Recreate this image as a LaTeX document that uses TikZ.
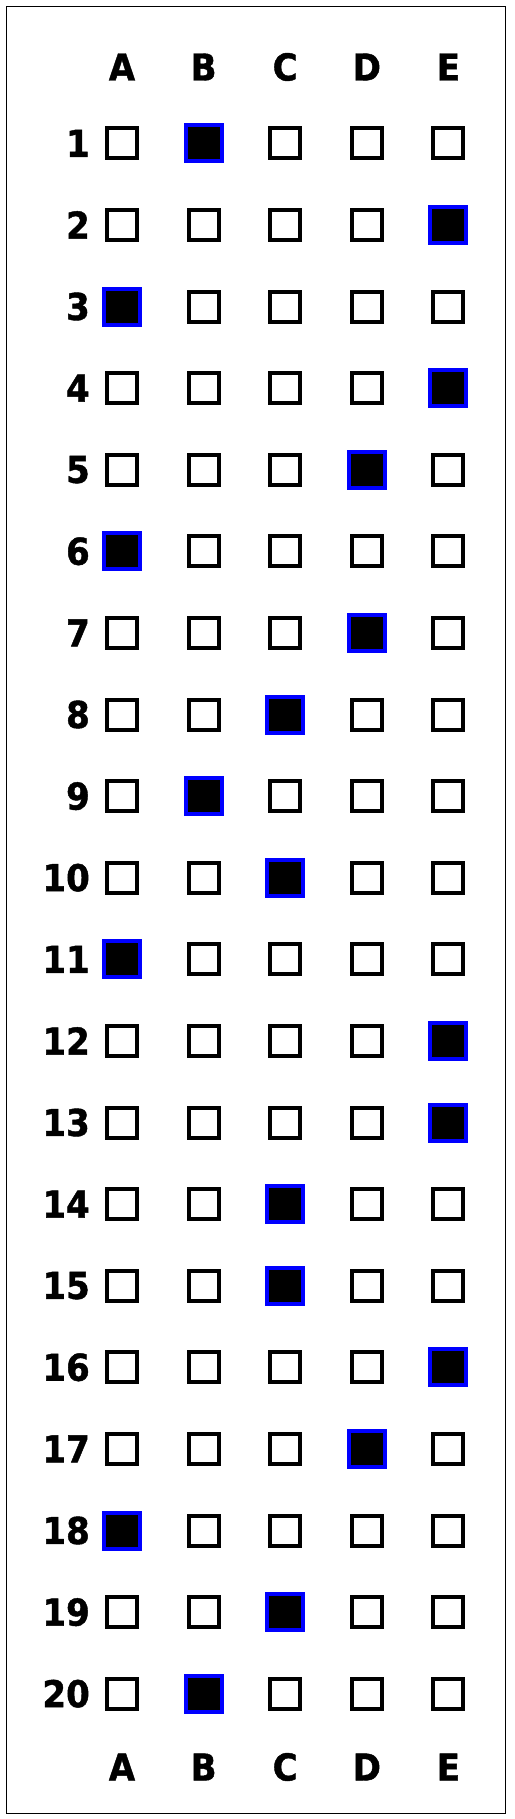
\documentclass[tikz,border=0pt]{standalone}
\usepackage{fontspec}
\newfontfamily\sheetfont[FakeStretch=0.92,FakeBold=1.2]{DejaVu Sans}
\definecolor{markblue}{RGB}{0,0,255}
\tikzset{
    bubble/.style={draw, line width=4pt, minimum size=30pt, inner sep=0pt},
    marked/.style={bubble, fill=black, draw=markblue, minimum size=36pt},
    colhead/.style={font=\sheetfont\bfseries\fontsize{37}{40}\selectfont, inner sep=0pt},
    rownum/.style={colhead, anchor=east}
}
\begin{document}
\begin{tikzpicture}[x=1pt, y=-1pt]
    % Page and frame
    \useasboundingbox (0,0) rectangle (514,1819);
    \draw[line width=1pt] (6,7) rectangle (505,1813);

    % Column letters, top and bottom
    \foreach \c [count=\i] in {A,B,C,D,E} {
        \pgfmathsetmacro\xx{122+(\i-1)*81.6}
        \node[colhead] (top\c) at (\xx,67) {\c};
        \node[colhead] (bot\c) at (\xx,1767) {\c};
    }

    % Rows of bubbles, the answer marked
    \foreach \ans [count=\q] in {2,5,1,5,4,1,4,3,2,3,1,5,5,3,3,5,4,1,3,2} {
        \pgfmathsetmacro\yy{143.3+(\q-1)*81.6}
        \node[rownum] (n\q) at (90,\yy) {\q};
        \foreach \c [count=\i] in {A,B,C,D,E} {
            \pgfmathsetmacro\xx{122+(\i-1)*81.6}
            \ifnum\i=\ans
                \node[marked] (b\q\c) at (\xx,\yy) {};
            \else
                \node[bubble] (b\q\c) at (\xx,\yy) {};
            \fi
        }
    }
\end{tikzpicture}
\end{document}
